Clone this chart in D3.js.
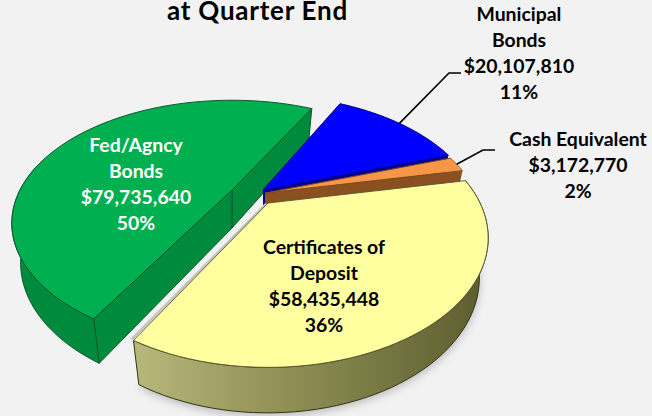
<!DOCTYPE html>
<html><head><meta charset="utf-8">
<script src="https://cdnjs.cloudflare.com/ajax/libs/d3/7.8.5/d3.min.js"></script>
<style>html,body{margin:0;padding:0;background:#f2f2f2}svg{display:block}text{font-family:Lato,"Open Sans",sans-serif;font-weight:700}</style>
</head><body><svg id="c" width="652" height="416"></svg>
<script>
// data
const categories = ["Fed/Agncy Bonds","Municipal Bonds","Cash Equivalent","Certificates of Deposit"];
const values = [79735640,20107810,3172770,58435448];
const percents = ["50%","11%","2%","36%"];
const labelLines = [["Fed/Agncy","Bonds"],["Municipal","Bonds"],["Cash Equivalent"],["Certificates of","Deposit"]];
const titleText = "at Quarter End";
// style + layout
const topColors = ["#00b050","#0000ff","#f79646","#ffffa0"];
const wallColors = ["#008a3e","#00008c","#8a5020","url(#olive)"];
const centers = [[232,190],[263,190],[265,193],[268,203]];
const spin = [1,0,0,0];
const xScaleBy = [1,1,1,1];
const yScaleBy = [0.95,1,1,1];
const labelPos = [[136,152,"#fff"],[519,21,"#000"],[578,146,"#000"],[324,254,"#000"]];
const R=212,B=120,P=0.27,DEPTH=38,Q=0.96,LH=26;
const svg=d3.select("#c");
const defs=svg.append("defs");
const g=defs.append("linearGradient").attr("id","olive").attr("gradientUnits","userSpaceOnUse").attr("x1",130).attr("x2",480).attr("y1",0).attr("y2",0);
[[0,"#b9b97c"],[0.45,"#8f8f55"],[1,"#5e5e30"]].forEach(s=>g.append("stop").attr("offset",s[0]).attr("stop-color",s[1]));
defs.append("filter").attr("id","blur").attr("x","-20%").attr("y","-20%").attr("width","140%").attr("height","140%").append("feGaussianBlur").attr("stdDeviation",4);

const pie=d3.pie().sort(null).startAngle((119+90)*Math.PI/180).endAngle((119+90+360)*Math.PI/180);
const arcs=pie(values);
function proj(i,a,r,level){
  const t=a+spin[i]*Math.PI/180-Math.PI/2,c=Math.cos(t)*r,s=Math.sin(t)*r,w=1-P*s,[cx,cy]=centers[i];
  const q=level?Q:1;
  return [cx+R*xScaleBy[i]*c/w*q, cy+B*yScaleBy[i]*s/w*q+(level?DEPTH/w:0)];
}
const line=d3.line();
const rim=(i,a0,a1,l)=>d3.range(0,61).map(k=>proj(i,a0+(a1-a0)*k/60,1,l));
function poly(pts,fill,stroke,sw,op){
  return svg.append("path").attr("d",line(pts)+"Z").attr("fill",fill).attr("stroke",stroke||"none").attr("stroke-width",sw||0).attr("stroke-opacity",op==null?1:op).attr("stroke-linejoin","round");
}
const a3=arcs[3];
svg.append("path").attr("d",line(rim(3,a3.startAngle,a3.endAngle,1).map(p=>[p[0],p[1]+3]))+"Z").attr("fill","#888").attr("opacity",.55).attr("filter","url(#blur)");

arcs.forEach((d,i)=>{
  const A=d.startAngle,E=d.endAngle,col=wallColors[i];
  const ctr0=proj(i,A,0,0),ctr1=proj(i,A,0,1);
  const pE0=proj(i,E,1,0),pE1=proj(i,E,1,1),pA0=proj(i,A,1,0),pA1=proj(i,A,1,1);
  const ws=i===0?"#0c5a2c":"#222";
  if(i===0){
    poly([ctr0,pE0,pE1,ctr1],col,ws,1);
    poly([ctr0,pA0,pA1,ctr1],col,ws,1);
  } else if(i!==3){
    poly([ctr0,pE0,pE1,ctr1],col,null);
  }
  if(i===0||i===3){
    const visEnd=i===0?A+75*Math.PI/180:E;
    const top=rim(i,A,visEnd,0),bot=rim(i,A,visEnd,1).reverse();
    poly(top.concat(bot),col,i===0?ws:"#33331a",1);
  }
  if(i===3){
    svg.append("path").attr("d",line([[ctr0[0]-2,ctr0[1]+1],[pE0[0]-2,pE0[1]-1]])).attr("stroke","#c4c4c4").attr("stroke-width",2.5).attr("fill","none");
  }
  const topPts=[ctr0].concat(rim(i,A,E,0));
  poly(topPts,topColors[i],i===3?"#55552c":(i===0?"#0c5a2c":(i===2?"#7a4a20":"#00008c")),1,i===3?.9:1);
});

[[1,[449,73],[461,73]],[2,[483,150],[495,150]]].forEach(([i,p,q])=>{
  const m=(arcs[i].startAngle+arcs[i].endAngle)/2;
  svg.append("path").attr("d",line([proj(i,m,1,0),p,q])).attr("fill","none").attr("stroke","#000").attr("stroke-width",1.6);
});

svg.append("text").attr("x",257.5).attr("y",19.5).attr("text-anchor","middle").attr("font-size",26).attr("letter-spacing",0.75).attr("fill","#000").text(titleText);
const fmt=d3.format("$,");
categories.forEach((c,i)=>{
  const [x,y,col]=labelPos[i];
  const lines=labelLines[i].concat([fmt(values[i]),percents[i]]);
  const t=svg.append("text").attr("text-anchor","middle").attr("font-size",19.4).attr("fill",col);
  lines.forEach((l,k)=>t.append("tspan").attr("x",x).attr("y",y+k*LH).text(l));
});
</script></body></html>
